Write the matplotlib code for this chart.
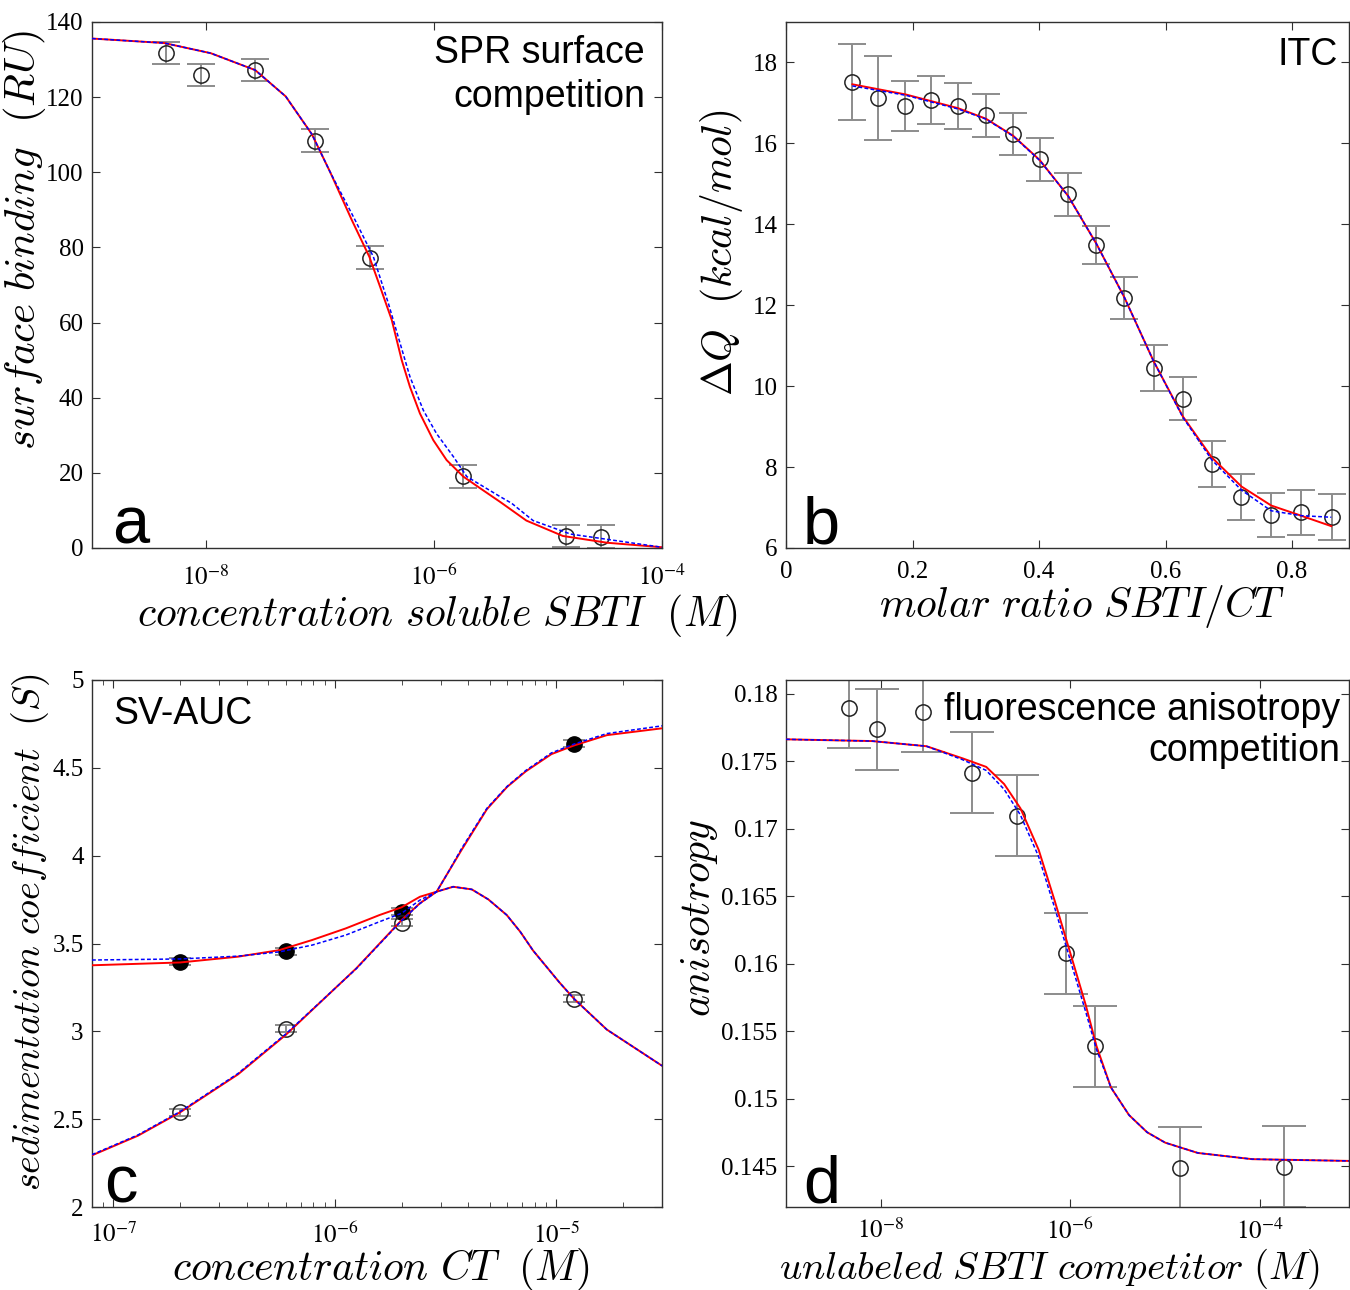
import matplotlib
matplotlib.use('Agg')
import matplotlib.pyplot as plt
from matplotlib.ticker import FixedLocator, FixedFormatter, NullLocator, LogLocator, NullFormatter

# ---------------- Panel a: SPR surface competition ----------------
spr_conc = [4.5e-9, 9.0e-9, 2.7e-8, 9.1e-8, 2.75e-7, 1.81e-6, 1.44e-5, 2.9e-5]
spr_resp = [131.8, 125.9, 127.2, 108.4, 77.3, 19.1, 3.2, 3.0]
spr_err = [3.0, 3.0, 3.0, 3.0, 3.0, 3.0, 3.0, 3.0]
spr_fit_red_x = [1e-9, 4.3e-9, 1.1e-8, 2.7e-8, 5.0e-8, 8.5e-8, 1.23e-7, 1.9e-7, 2.71e-7,
                 3.36e-7, 4.26e-7, 5.21e-7, 6.15e-7, 7.53e-7, 9.86e-7, 1.29e-6, 1.81e-6,
                 2.54e-6, 3.79e-6, 6.46e-6, 1.35e-5, 3.3e-5, 1e-4]
spr_fit_red_y = [135.6, 134.4, 131.7, 127.2, 120.2, 110.1, 100.0, 87.3, 77.5,
                 69.6, 60.7, 50.0, 42.9, 35.8, 28.7, 23.4, 19.0,
                 15.9, 12.3, 7.3, 3.2, 1.4, 0.2]
spr_fit_blue_x = [1e-9, 4.3e-9, 1.1e-8, 2.7e-8, 5.0e-8, 8.5e-8, 1.23e-7, 2.03e-7, 2.94e-7,
                  3.98e-7, 5.04e-7, 6.15e-7, 8.05e-7, 1.05e-6, 1.48e-6, 1.94e-6, 3.79e-6,
                  4.8e-6, 7.4e-6, 1.58e-5, 1e-4]
spr_fit_blue_y = [135.6, 134.4, 131.7, 127.2, 120.2, 110.1, 100.0, 87.3, 77.5,
                  65.1, 54.5, 45.6, 36.7, 30.5, 24.3, 19.0, 13.7,
                  11.9, 7.3, 3.7, 0.2]

# ---------------- Panel b: ITC ----------------
itc_ratio = [0.105, 0.146, 0.1885, 0.230, 0.272, 0.316, 0.359, 0.401, 0.446,
             0.4905, 0.535, 0.581, 0.627, 0.673, 0.720, 0.767, 0.814, 0.8625]
itc_dq = [17.52, 17.12, 16.93, 17.08, 16.93, 16.69, 16.23, 15.61, 14.74,
          13.49, 12.19, 10.45, 9.69, 8.07, 7.26, 6.81, 6.88, 6.76]
itc_err = [0.94, 1.03, 0.62, 0.59, 0.57, 0.52, 0.52, 0.53, 0.54,
           0.48, 0.52, 0.57, 0.53, 0.57, 0.57, 0.54, 0.56, 0.57]
itc_fit_red_x = [0.105, 0.189, 0.272, 0.316, 0.359, 0.401, 0.446, 0.491, 0.535,
                 0.581, 0.627, 0.673, 0.720, 0.767, 0.814, 0.862]
itc_fit_red_y = [17.46, 17.21, 16.87, 16.61, 16.19, 15.59, 14.70, 13.51, 12.19,
                 10.62, 9.26, 8.24, 7.52, 7.05, 6.80, 6.54]
itc_fit_blue_x = [0.105, 0.189, 0.272, 0.316, 0.359, 0.401, 0.446, 0.491, 0.535,
                  0.581, 0.627, 0.673, 0.720, 0.767, 0.814, 0.862]
itc_fit_blue_y = [17.42, 17.19, 16.85, 16.60, 16.18, 15.58, 14.70, 13.51, 12.19,
                  10.62, 9.24, 8.18, 7.43, 6.92, 6.80, 6.76]

# ---------------- Panel c: SV-AUC ----------------
auc_conc = [2.0e-7, 6.0e-7, 2.01e-6, 1.2e-5]
auc_fast = [3.396, 3.455, 3.680, 4.637]
auc_fast_err = [0.02, 0.02, 0.02, 0.02]
auc_slow = [2.539, 3.014, 3.618, 3.186]
auc_slow_err = [0.02, 0.02, 0.02, 0.02]
auc_fitA_x = [8e-8, 2.0e-7, 3.65e-7, 5.6e-7, 7.9e-7, 1.12e-6, 1.59e-6, 2.0e-6, 2.42e-6,
              2.88e-6, 3.25e-6, 3.73e-6, 4.86e-6, 6.0e-6, 7.28e-6, 9.5e-6, 1.2e-5,
              1.69e-5, 3e-5]
auc_fitA_red_y = [3.376, 3.392, 3.425, 3.462, 3.520, 3.586, 3.662, 3.706, 3.766,
                  3.795, 3.906, 4.032, 4.265, 4.392, 4.48, 4.578, 4.627,
                  4.686, 4.725]
auc_fitA_blue_y = [3.406, 3.412, 3.428, 3.452, 3.491, 3.548, 3.624, 3.672, 3.747,
                   3.795, 3.906, 4.040, 4.270, 4.395, 4.485, 4.585, 4.635,
                   4.695, 4.739]
auc_fitB_x = [8e-8, 1.29e-7, 2.0e-7, 3.65e-7, 6.0e-7, 1.25e-6, 2.0e-6, 2.42e-6, 2.88e-6,
              3.42e-6, 4.15e-6, 4.93e-6, 5.97e-6, 6.87e-6, 7.85e-6, 1.03e-5, 1.2e-5,
              1.69e-5, 3e-5]
auc_fitB_red_y = [2.294, 2.406, 2.539, 2.755, 2.98, 3.359, 3.633, 3.729, 3.795,
                  3.823, 3.808, 3.751, 3.662, 3.567, 3.46, 3.28, 3.186,
                  3.01, 2.804]
auc_fitB_blue_y = [2.298, 2.41, 2.543, 2.76, 2.985, 3.357, 3.630, 3.727, 3.795,
                   3.823, 3.808, 3.751, 3.662, 3.567, 3.46, 3.28, 3.186,
                   3.01, 2.804]

# ---------------- Panel d: fluorescence anisotropy ----------------
fa_conc = [4.58e-9, 9.1e-9, 2.79e-8, 9.12e-8, 2.74e-7, 9.1e-7, 1.82e-6, 1.46e-5, 1.81e-4]
fa_aniso = [0.17895, 0.17737, 0.17865, 0.17413, 0.17094, 0.16079, 0.15390, 0.14492, 0.14497]
fa_err = [0.003, 0.003, 0.003, 0.003, 0.003, 0.003, 0.003, 0.003, 0.003]
fa_fit_x = [1e-9, 8.1e-9, 3.04e-8, 7.33e-8, 1.3e-7, 2.01e-7, 2.99e-7, 4.65e-7, 6.9e-7,
            1.03e-6, 1.46e-6, 1.9e-6, 2.7e-6, 4.19e-6, 6.5e-6, 1.01e-5, 2.23e-5, 8.35e-5, 8.8e-4]
fa_fit_red_y = [0.17661, 0.17648, 0.1761, 0.1752, 0.17457, 0.1733, 0.1715, 0.16844, 0.16462,
                0.16053, 0.15696, 0.1539, 0.15084, 0.1488, 0.14753, 0.14676, 0.146, 0.14554, 0.14541]
fa_fit_blue_y = [0.17661, 0.17648, 0.1761, 0.1751, 0.17431, 0.17291, 0.171, 0.16793, 0.1641,
                 0.16, 0.15645, 0.15365, 0.15084, 0.1488, 0.14753, 0.14676, 0.146, 0.14554, 0.14541]

# ---------------- styling ----------------
plt.rcParams['font.family'] = ['Liberation Serif', 'DejaVu Serif']
plt.rcParams['mathtext.fontset'] = 'stix'
TICK_FS = 18
LABEL_FS = 30
ANNOT_FS = 27
LETTER_FS = 48
SANS = ['Liberation Sans', 'DejaVu Sans']
ERR_COL = '#8c8c8c'
RED = '#ff0000'
BLUE = '#0000ff'

W, H = 1350, 1290
fig = plt.figure(figsize=(W / 100, H / 100), dpi=100)
fig.patch.set_facecolor('white')


def add_ax(l, t, r, b):
    return fig.add_axes([l / W, 1 - b / H, (r - l) / W, (b - t) / H])


def style(ax):
    for s in ax.spines.values():
        s.set_color('#303030')
        s.set_linewidth(1.0)
    ax.tick_params(which='both', direction='in', top=True, right=True,
                   labelsize=TICK_FS, color='#303030', pad=6)
    ax.tick_params(which='major', length=6)
    ax.tick_params(which='minor', length=3.5)


def data(ax, x, y, e, cap, filled=False):
    ax.errorbar(x, y, yerr=e, fmt='none', ecolor=ERR_COL, elinewidth=1.4,
                capsize=cap, capthick=1.4, zorder=2)
    ax.plot(x, y, 'o', ms=11, mfc='black' if filled else 'none',
            mec='#222222', mew=1.1, zorder=3)


def fits(ax, xb, yb, xr, yr):
    ax.plot(xr, yr, '-', color=RED, lw=1.4, zorder=4)
    ax.plot(xb, yb, '--', color=BLUE, lw=1.1, dashes=(2.5, 1.5), zorder=5)


def xlabel(ax, s, x, y, fs=LABEL_FS):
    ax.set_xlabel(s, fontsize=fs, math_fontfamily='cm')
    ax.xaxis.set_label_coords(x, y)
    ax.xaxis.label.set_va('center')


def ylabel(ax, s, x, y, fs=LABEL_FS):
    ax.set_ylabel(s, fontsize=fs, math_fontfamily='cm')
    ax.yaxis.set_label_coords(x, y)
    ax.yaxis.label.set_va('center')


def logticks(ax, vals, labels, minor=False):
    ax.xaxis.set_major_locator(FixedLocator(vals))
    ax.xaxis.set_major_formatter(FixedFormatter(labels))
    if minor:
        ax.xaxis.set_minor_locator(LogLocator(base=10, subs=[2, 3, 4, 5, 6, 7, 8, 9], numticks=20))
    else:
        ax.xaxis.set_minor_locator(NullLocator())
    ax.xaxis.set_minor_formatter(NullFormatter())


# ---- a ----
ax = add_ax(92, 22, 662, 548)
style(ax)
ax.set_xscale('log')
data(ax, spr_conc, spr_resp, spr_err, 10)
fits(ax, spr_fit_blue_x, spr_fit_blue_y, spr_fit_red_x, spr_fit_red_y)
ax.set_xlim(1e-9, 1e-4)
ax.set_ylim(0, 140)
ax.set_yticks([0, 20, 40, 60, 80, 100, 120, 140])
logticks(ax, [1e-8, 1e-6, 1e-4], [r'$10^{-8}$', r'$10^{-6}$', r'$10^{-4}$'])
ax.tick_params(axis='x', pad=12)
xlabel(ax, r'$concentration\ soluble\ SBTI\ \ (M)$', 0.605, -0.128)
ylabel(ax, r'$surface\ binding\ \ (RU)$', -0.118, 0.586, fs=31)
ax.text(0.970, 0.975, 'SPR surface\ncompetition', transform=ax.transAxes, ha='right',
        va='top', fontsize=ANNOT_FS, family=SANS, linespacing=1.29)
ax.text(0.036, 0.008, 'a', transform=ax.transAxes, ha='left', va='baseline',
        fontsize=LETTER_FS, family=SANS)

# ---- b ----
ax = add_ax(786, 22, 1349, 548)
style(ax)
data(ax, itc_ratio, itc_dq, itc_err, 10)
fits(ax, itc_fit_blue_x, itc_fit_blue_y, itc_fit_red_x, itc_fit_red_y)
ax.set_xlim(0, 0.89)
ax.set_ylim(6, 19)
ax.set_xticks([0, 0.2, 0.4, 0.6, 0.8])
ax.set_xticklabels(['0', '0.2', '0.4', '0.6', '0.8'])
ax.set_yticks([6, 8, 10, 12, 14, 16, 18])
ax.tick_params(axis='x', pad=9)
xlabel(ax, r'$molar\ ratio\ SBTI/CT$', 0.527, -0.112)
ylabel(ax, r'$\Delta Q\ \ (kcal/mol)$', -0.114, 0.561)
ax.text(0.980, 0.972, 'ITC', transform=ax.transAxes, ha='right', va='top',
        fontsize=ANNOT_FS, family=SANS)
ax.text(0.030, 0.008, 'b', transform=ax.transAxes, ha='left', va='baseline',
        fontsize=LETTER_FS, family=SANS)

# ---- c ----
ax = add_ax(92, 680, 662, 1207)
style(ax)
ax.set_xscale('log')
ax.errorbar(auc_conc, auc_fast, yerr=auc_fast_err, fmt='none', ecolor=ERR_COL,
            elinewidth=1.4, capsize=8, capthick=1.4, zorder=2)
ax.errorbar(auc_conc, auc_slow, yerr=auc_slow_err, fmt='none', ecolor=ERR_COL,
            elinewidth=1.4, capsize=8, capthick=1.4, zorder=2)
ax.plot(auc_conc, auc_fast, 'o', ms=11, mfc='black', mec='black', mew=1.0, zorder=3)
ax.plot(auc_conc, auc_slow, 'o', ms=11, mfc='none', mec='#222222', mew=1.1, zorder=3)
fits(ax, auc_fitA_x, auc_fitA_blue_y, auc_fitA_x, auc_fitA_red_y)
fits(ax, auc_fitB_x, auc_fitB_blue_y, auc_fitB_x, auc_fitB_red_y)
ax.set_xlim(8e-8, 3e-5)
ax.set_ylim(2, 5)
ax.set_yticks([2, 2.5, 3, 3.5, 4, 4.5, 5])
ax.set_yticklabels(['2', '2.5', '3', '3.5', '4', '4.5', '5'])
logticks(ax, [1e-7, 1e-6, 1e-5], [r'$10^{-7}$', r'$10^{-6}$', r'$10^{-5}$'], minor=True)
ax.tick_params(axis='x', pad=11)
xlabel(ax, r'$concentration\ CT\ \ (M)$', 0.507, -0.118)
ylabel(ax, r'$sedimentation\ coefficient\ \ (S)$', -0.108, 0.522, fs=27.5)
ax.text(0.037, 0.970, 'SV-AUC', transform=ax.transAxes, ha='left', va='top',
        fontsize=ANNOT_FS, family=SANS)
ax.text(0.022, 0.008, 'c', transform=ax.transAxes, ha='left', va='baseline',
        fontsize=LETTER_FS, family=SANS)

# ---- d ----
ax = add_ax(786, 680, 1349, 1207)
style(ax)
ax.set_xscale('log')
data(ax, fa_conc, fa_aniso, fa_err, 16)
fits(ax, fa_fit_x, fa_fit_blue_y, fa_fit_x, fa_fit_red_y)
ax.set_xlim(1e-9, 8.8e-4)
ax.set_ylim(0.142, 0.181)
ax.set_yticks([0.145, 0.15, 0.155, 0.16, 0.165, 0.17, 0.175, 0.18])
ax.set_yticklabels(['0.145', '0.15', '0.155', '0.16', '0.165', '0.17', '0.175', '0.18'])
logticks(ax, [1e-8, 1e-6, 1e-4], [r'$10^{-8}$', r'$10^{-6}$', r'$10^{-4}$'])
ax.tick_params(axis='x', pad=8)
xlabel(ax, r'$unlabeled\ SBTI\ competitor\ (M)$', 0.468, -0.118, fs=28)
ylabel(ax, r'$anisotropy$', -0.153, 0.548)
ax.text(0.985, 0.978, 'fluorescence anisotropy\ncompetition', transform=ax.transAxes,
        ha='right', va='top', fontsize=ANNOT_FS, family=SANS, linespacing=1.2,
        multialignment='right')
ax.text(0.030, 0.008, 'd', transform=ax.transAxes, ha='left', va='baseline',
        fontsize=LETTER_FS, family=SANS)

fig.savefig('out.png', dpi=100, facecolor='white')
